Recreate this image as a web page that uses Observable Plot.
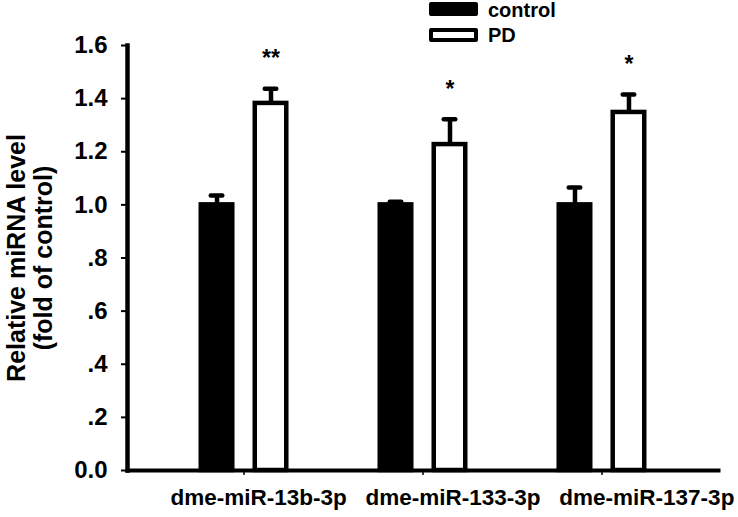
<!DOCTYPE html>
<html><head><meta charset="utf-8">
<script src="https://cdn.jsdelivr.net/npm/d3@7"></script>
<script src="https://cdn.jsdelivr.net/npm/@observablehq/plot@0.6"></script>
<style>
body{margin:0;background:#fff;font-family:"Liberation Sans",Arial,sans-serif;}
#legend{position:relative;height:43px;width:738px;}
.sw{position:absolute;left:429px;width:49px;height:14px;box-sizing:border-box;border-radius:2px;}
.lb{position:absolute;left:488px;font-size:20px;font-weight:bold;line-height:20px;color:#000;}
#chart svg{overflow:visible;}
</style></head><body>
<div id="legend"></div>
<div id="chart"></div>
<script>
const genes = ["dme-miR-13b-3p", "dme-miR-133-3p", "dme-miR-137-3p"];
const groups = ["control", "PD"];
const controlMean = [1.0, 1.0, 1.0];
const controlErr = [0.035, 0.012, 0.065];
const pdMean = [1.382, 1.227, 1.348];
const pdErr = [0.055, 0.095, 0.068];
const significance = ["**", "*", "*"];
const yTicks = [0, 0.2, 0.4, 0.6, 0.8, 1.0, 1.2, 1.4, 1.6];
const yTickLabels = ["0.0", ".2", ".4", ".6", ".8", "1.0", "1.2", "1.4", "1.6"];
const yTitle = "Relative miRNA level\n(fold of control)";
const groupFill = {control: "black", PD: "white"};

// legend
const legend = document.getElementById("legend");
groups.forEach((g, i) => {
  const sw = document.createElement("div");
  sw.className = "sw";
  sw.style.top = (2 + i * 26) + "px";
  sw.style.background = groupFill[g];
  sw.style.border = "4px solid black";
  legend.appendChild(sw);
  const lb = document.createElement("div");
  lb.className = "lb";
  lb.style.top = (i * 25) + "px";
  lb.textContent = g;
  legend.appendChild(lb);
});

const data = genes.flatMap((g, i) => [
  {gene: g, group: groups[0], mean: controlMean[i], err: controlErr[i], sig: null},
  {gene: g, group: groups[1], mean: pdMean[i], err: pdErr[i], sig: significance[i]}
]);

const W = 738, H = 474, ML = 127, MR = 20;
const fxPadOuter = 0.151;
const fxStep = (W - ML - MR) / (genes.length + 2 * fxPadOuter);
const axisShift = -fxPadOuter * fxStep; // first facet starts after the outer padding

// the category captions sit as one line of text under the axis, as in the original
const xCaption = genes.join("\u00a0\u00a0\u00a0");

const chart = Plot.plot({
  width: W, height: H,
  marginTop: 2, marginBottom: 47, marginLeft: ML, marginRight: MR,
  style: {fontFamily: '"Liberation Sans", Arial, sans-serif', fontWeight: "bold", fontSize: "22px", color: "black", background: "transparent", overflow: "visible"},
  fx: {domain: genes, paddingInner: 0, paddingOuter: fxPadOuter, round: false, label: null},
  x: {domain: groups, paddingInner: 0.333, paddingOuter: 0.824, round: false, axis: null},
  y: {domain: [0, 1.6], label: null},
  marks: [
    Plot.barY(data, {fx: "gene", x: "group", y: "mean", fill: d => groupFill[d.group], stroke: "black", strokeWidth: 4.5, insetLeft: 2.25, insetRight: 2.25}),
    Plot.ruleX(data, {fx: "gene", x: "group", y1: "mean", y2: d => d.mean + d.err, stroke: "black", strokeWidth: 4.5}),
    Plot.tickY(data, {fx: "gene", x: "group", y: d => d.mean + d.err, stroke: "black", strokeWidth: 4.5, strokeLinecap: "round", insetLeft: 12.25, insetRight: 12.25}),
    Plot.text(data.filter(d => d.sig), {fx: "gene", x: "group", y: d => d.mean + d.err, text: "sig", dy: -30, fontSize: 23, fontWeight: "bold"}),
    Plot.axisY({ticks: yTicks, tickFormat: d => yTickLabels[yTicks.indexOf(d)], tickSize: 6, tickPadding: 14, strokeWidth: 2, fontSize: 24, fontWeight: "bold", label: null, dx: axisShift}),
    Plot.axisFx({anchor: "bottom", tickSize: 5, tickFormat: () => "", strokeWidth: 1.5, label: null}),
    Plot.text([xCaption], {facet: "super", frameAnchor: "bottom-left", textAnchor: "start", dx: 170 - ML + axisShift, dy: 34, fontSize: 22.5, fontWeight: "bold"}),
    Plot.text([yTitle], {facet: "super", frameAnchor: "left", textAnchor: "middle", rotate: -90, dx: -98 + axisShift, fontSize: 25, fontWeight: "bold", lineHeight: 1.1}),
    Plot.frame({facet: "super", anchor: "bottom", stroke: "black", strokeWidth: 4, insetLeft: axisShift, insetRight: axisShift}),
    Plot.frame({facet: "super", anchor: "left", stroke: "black", strokeWidth: 4.5, insetLeft: axisShift})
  ]
});
document.getElementById("chart").appendChild(chart);
</script>
</body></html>
